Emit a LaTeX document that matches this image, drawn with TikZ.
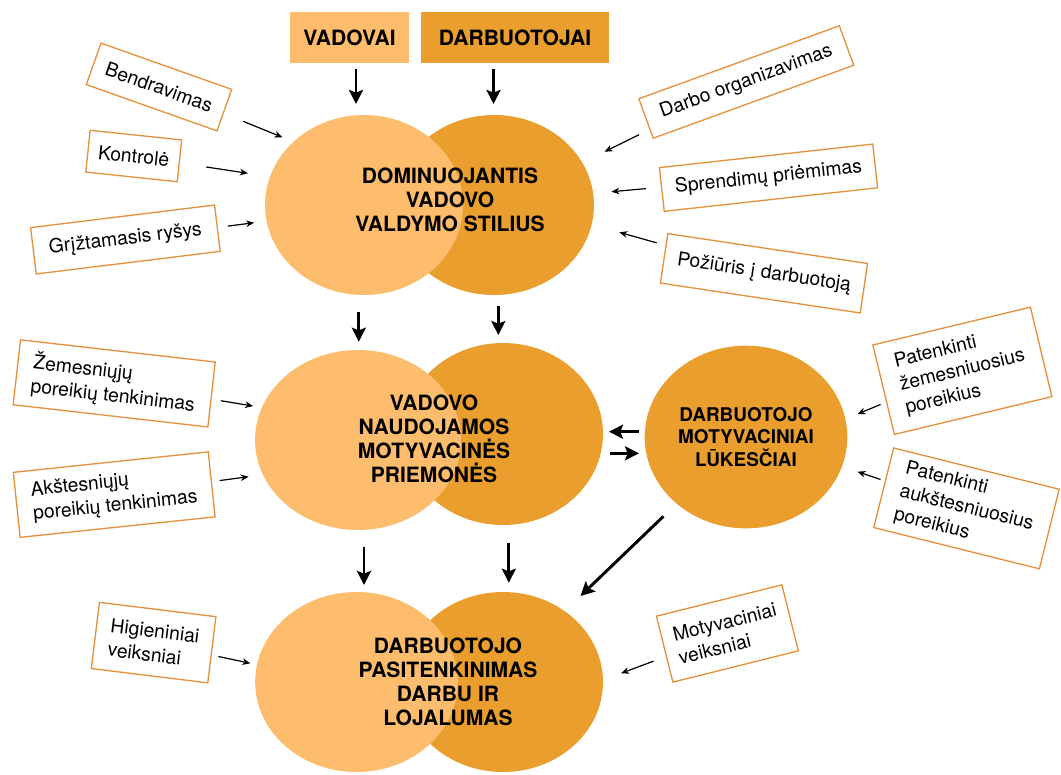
\documentclass[tikz,border=0pt]{standalone}
\usepackage{fontspec}
\setmainfont{TeX Gyre Heros}
\usetikzlibrary{shapes.geometric,arrows.meta}
\definecolor{peach}{RGB}{253,189,108}
\definecolor{amber}{RGB}{233,158,46}
\definecolor{rim}{RGB}{229,146,62}
\tikzset{
	lightcirc/.style={ellipse, fill=peach, draw=none, inner sep=0pt},
	darkcirc/.style={ellipse, fill=amber, draw=none, inner sep=0pt},
	headtxt/.style={font=\bfseries\fontsize{15.8}{18}\selectfont, align=center},
	factor/.style={draw=rim, line width=1pt, fill=white, inner sep=0pt, align=left, font=\fontsize{14.5}{18}\selectfont},
	thinarr/.style={-{Stealth[length=6pt,width=5pt]}, line width=0.9pt},
	thickarr/.style={-{Stealth[length=10.5pt,width=10.5pt,inset=2pt]}, line width=2.2pt}}
\tikzset{every picture/.style={line width=0.75pt}}

\begin{document}
\begin{tikzpicture}[x=0.75pt,y=0.75pt,yscale=-1,xscale=1]
	\useasboundingbox (0,0) rectangle (1061,775);

	%Shape: Rectangle [id:vadovai] 
	\node[fill=peach, minimum width=89pt, minimum height=38pt, headtxt] (vad) at (349.5,37.5) {VADOVAI};
	%Shape: Rectangle [id:darbuotojai] 
	\node[fill=amber, minimum width=141pt, minimum height=38pt, headtxt] (darb) at (515,37.5) {DARBUOTOJAI};

	%Shape: Ellipse [id:stilius] 
	\node[darkcirc, minimum width=150pt, minimum height=135pt] (domD) at (494,205) {};
	\node[lightcirc, minimum width=148.5pt, minimum height=135pt] (domL) at (364,205) {};
	%Shape: Ellipse [id:priemones] 
	\node[darkcirc, minimum width=150pt, minimum height=136.5pt] (motD) at (503,434) {};
	\node[lightcirc, minimum width=154.5pt, minimum height=135pt] (motL) at (358,440) {};
	%Shape: Ellipse [id:lukesciai] 
	\node[darkcirc, minimum width=152pt, minimum height=137pt, headtxt, font=\bfseries\fontsize{14.2}{17}\selectfont] (luk) at (746,437) {DARBUOTOJO\\MOTYVACINIAI\\LŪKESČIAI};
	%Shape: Ellipse [id:pasitenkinimas] 
	\node[darkcirc, minimum width=150pt, minimum height=135pt] (satD) at (503,682) {};
	\node[lightcirc, minimum width=152pt, minimum height=135pt] (satL) at (356.5,682) {};

	% Text Node
	\node[headtxt] (dom) at (450,200) {DOMINUOJANTIS\\VADOVO\\VALDYMO STILIUS};
	% Text Node
	\node[headtxt] (mot) at (434,439) {VADOVO\\NAUDOJAMOS\\MOTYVACINĖS\\PRIEMONĖS};
	% Text Node
	\node[headtxt] (sat) at (448,682) {DARBUOTOJO\\PASITENKINIMAS\\DARBU IR\\LOJALUMAS};

	% Factor boxes
	\node[factor, minimum width=104pt, minimum height=33pt, rotate=-19.5] (bend) at (159,87) {Bendravimas};
	\node[factor, minimum width=69pt, minimum height=31.5pt, rotate=-6] (kont) at (133.7,156) {Kontrolė};
	\node[factor, minimum width=139pt, minimum height=35pt, rotate=7] (grizt) at (125.4,239.5) {Grįžtamasis ryšys};
	\node[factor, minimum width=160pt, minimum height=31.5pt, rotate=20] (org) at (746.3,82) {Darbo organizavimas};
	\node[factor, minimum width=161pt, minimum height=33pt, rotate=6.3] (spr) at (768.5,177.7) {Sprendimų priėmimas};
	\node[factor, minimum width=151.5pt, minimum height=37.5pt, rotate=-8.5] (poz) at (764,273.3) {Požiūris į darbuotoją};
	\node[factor, minimum width=147pt, minimum height=49pt, rotate=-6.5] (zem) at (114.2,383.4) {Žemesniųjų\\poreikių tenkinimas};
	\node[factor, minimum width=147pt, minimum height=49pt, rotate=6] (aks) at (114.2,494.6) {Akštesniųjų\\poreikių tenkinimas};
	\node[factor, minimum width=121.5pt, minimum height=69pt, rotate=13.5] (patz) at (962.4,370.8) {Patenkinti\\žemesniuosius\\poreikius};
	\node[factor, minimum width=128pt, minimum height=61.5pt, rotate=-14] (pata) at (966.5,508.4) {Patenkinti\\aukštesniuosius\\poreikius};
	\node[factor, minimum width=88pt, minimum height=50pt, rotate=-7] (hig) at (153.6,642.6) {Higieniniai\\veiksniai};
	\node[factor, minimum width=97pt, minimum height=51pt, rotate=14] (mtv) at (727.4,633.5) {Motyvaciniai\\veiksniai};

	% Arrow tips
	\coordinate (t1) at (282.4,137.3);
	\coordinate (t2) at (247.9,173.3);
	\coordinate (t3) at (254.1,222.7);
	\coordinate (t4) at (604.5,151.7);
	\coordinate (t5) at (611.4,191.7);
	\coordinate (t6) at (619.4,232.3);
	\coordinate (t7) at (253.1,406);
	\coordinate (t8) at (248.6,476.7);
	\coordinate (t9) at (857.5,414);
	\coordinate (t10) at (857.5,471.7);
	\coordinate (t11) at (250.3,663.3);
	\coordinate (t12) at (621.1,673.3);

	%Straight Lines [id:thin] 
	\draw[thinarr, shorten <=15.6pt] (bend) -- (t1);
	\draw[thinarr, shorten <=20pt] (kont) -- (t2);
	\draw[thinarr, shorten <=7.4pt] (grizt) -- (t3);
	\draw[thinarr, shorten <=8.7pt] (org) -- (t4);
	\draw[thinarr, shorten <=11.3pt] (spr) -- (t5);
	\draw[thinarr, shorten <=6.8pt] (poz) -- (t6);
	\draw[thinarr, shorten <=6.9pt] (zem) -- (t7);
	\draw[thinarr, shorten <=5.7pt] (aks) -- (t8);
	\draw[thinarr, shorten <=4.4pt] (patz) -- (t9);
	\draw[thinarr, shorten <=3.3pt] (pata) -- (t10);
	\draw[thinarr, shorten <=5pt] (hig) -- (t11);
	\draw[thinarr, shorten <=9.8pt] (mtv) -- (t12);

	% Thick arrow tips
	\coordinate (vA) at (356,104);
	\coordinate (dA) at (493.5,104);
	\coordinate (m1) at (358.8,341.7);
	\coordinate (m2) at (498.3,335);
	\coordinate (b1) at (364,585);
	\coordinate (b2) at (508.8,582.7);
	\coordinate (dg) at (580.5,596);
	\coordinate (l1) at (609,431.7);
	\coordinate (r1) at (639,453.3);

	%Straight Lines [id:thick] 
	\draw[thickarr, shorten <=4.5pt] (vad.south -| vA) -- (vA);
	\draw[thickarr, shorten <=4.5pt] (darb.south -| dA) -- (dA);
	\draw[thickarr, shorten <=12.5pt] (domL.south -| m1) -- (m1);
	\draw[thickarr, shorten <=7.5pt] (domD.south -| m2) -- (m2);
	\draw[thickarr, shorten <=12pt] (motL.south -| b1) -- (b1);
	\draw[thickarr, shorten <=13.3pt] (motD.south -| b2) -- (b2);
	\draw[thickarr, shorten <=13.4pt] (luk) -- (dg);
	\draw[thickarr, shorten <=4pt] (luk.west |- l1) -- (l1);
	\draw[thickarr, shorten <=4.5pt] (motD.east |- r1) -- (r1);

\end{tikzpicture}
\end{document}
